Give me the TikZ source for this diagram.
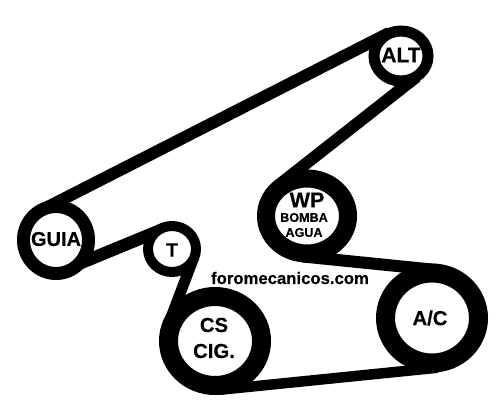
\documentclass[tikz,border=0pt]{standalone}
\usepackage{fontspec}
\setmainfont[BoldFeatures={FakeBold=0.35}]{Liberation Sans}
\usetikzlibrary{shapes.geometric}
\tikzset{
  pulley/.style n args={3}{ellipse,draw=black,fill=white,inner sep=0pt,outer sep=0pt,
    line width=#1pt,minimum width=#2pt,minimum height=#3pt},
  belt/.style={draw=black,line width=#1pt,line cap=butt},
  tag/.style={font=\bfseries\fontsize{#1}{#1}\selectfont,inner sep=0pt,text=black,anchor=center}
}
\begin{document}
\begin{tikzpicture}[x=1pt,y=-1pt]
\useasboundingbox[fill=white] (0,0) rectangle (500,407);
% belt ends
\coordinate (g1) at (40.7,210.5);
\coordinate (a1) at (389.2,32.9);
\coordinate (a2) at (416.7,76.6);
\coordinate (w1) at (281.6,182.8);
\coordinate (w2) at (303,256.5);
\coordinate (c1) at (436.5,270);
\coordinate (c2) at (437.5,367.7);
\coordinate (s1) at (220.5,389.7);
\coordinate (s2) at (169.4,321.7);
\coordinate (t1) at (193.6,257.9);
\coordinate (t2) at (161,230);
\coordinate (g2) at (75,265.4);
\draw[belt=12] (g1) -- (a1);
\draw[belt=12] (a2) -- (w1);
\draw[belt=12] (w2) -- (c1);
\draw[belt=10.5] (c2) -- (s1);
\draw[belt=11] (s2) -- (t1);
\draw[belt=12.5] (t2) -- (g2);
% pulleys
\node[pulley={11}{54}{50}] (alt) at (401,56) {};
\node[pulley={18}{82}{75}] (wp) at (307,216) {};
\node[pulley={19}{93}{90}] (ac) at (432,318) {};
\node[pulley={19}{93}{89}] (cs) at (215,341) {};
\node[pulley={10}{48}{46}] (t) at (172,249) {};
\node[pulley={13}{65}{67}] (guia) at (56,240) {};
% labels
\node[tag=21] (altl) at (401,55) {ALT};
\node[tag=20] (guial) at (56,239) {GUIA};
\node[tag=19.5] (tl) at (172,250) {T};
\node[tag=20.3] (csl) at (214,325) {CS};
\node[tag=20.3] (cigl) at (214,351) {CIG.};
\node[tag=21.5] (wpl) at (307,200) {WP};
\node[tag=12.6] (boml) at (304,217.5) {BOMBA};
\node[tag=12.6] (agul) at (304,232.5) {AGUA};
\node[tag=20.3] (acl) at (430,318) {A/C};
\node[tag=16.7] (web) at (290,278) {foromecanicos.com};
\end{tikzpicture}
\end{document}
